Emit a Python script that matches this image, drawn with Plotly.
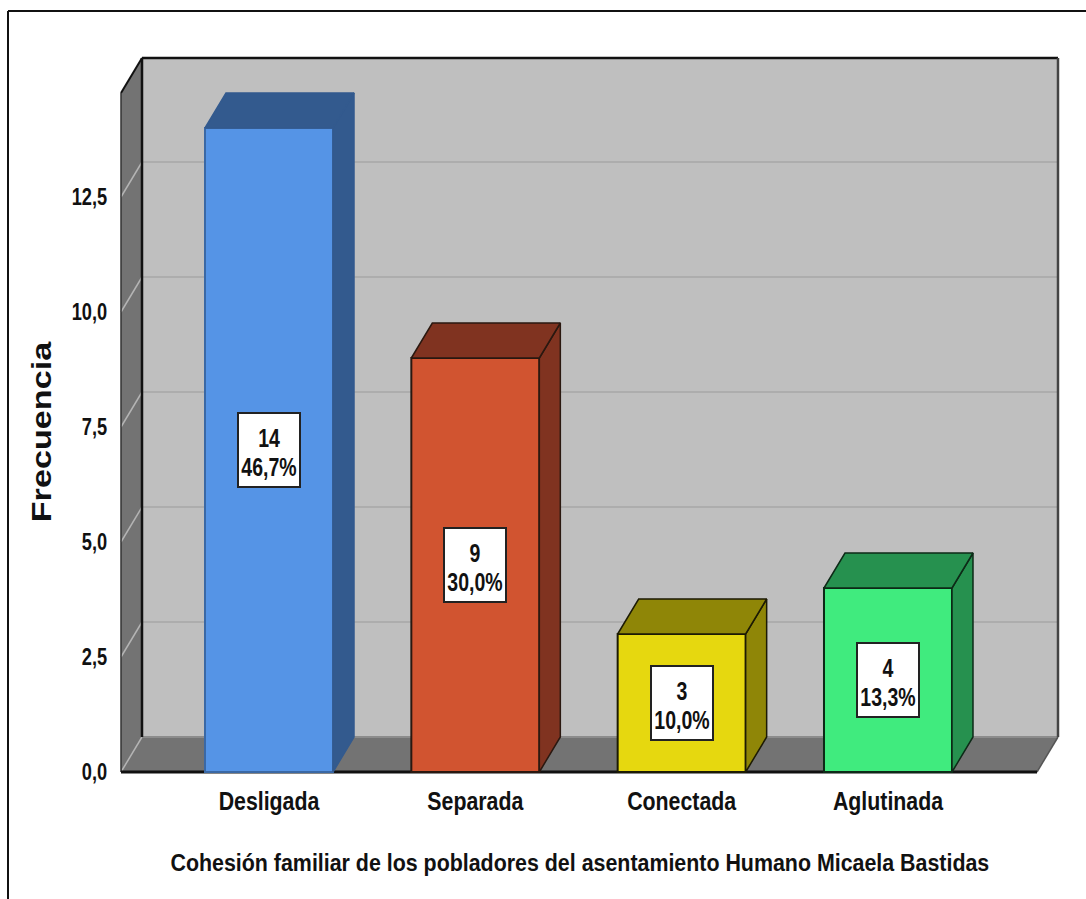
import plotly.graph_objects as go

categories = ["Desligada", "Separada", "Conectada", "Aglutinada"]
frequencies = [14, 9, 3, 4]
percent_labels = ["46,7%", "30,0%", "10,0%", "13,3%"]
y_tick_values = [0, 2.5, 5, 7.5, 10, 12.5]
y_tick_labels = ["0,0", "2,5", "5,0", "7,5", "10,0", "12,5"]
front_colors = ["#5594e6", "#d15430", "#e6d80f", "#40eb7e"]
dark_colors = ["#335a8e", "#803320", "#8f8607", "#26914f"]
edge_colors = ["#3a68a5", "#2a1810", "#1c1a04", "#0d2a17"]
side_edge_colors = ["#335a8e", "#2a1810", "#1c1a04", "#0d2a17"]
x_title = "Cohesión familiar de los pobladores del asentamiento Humano Micaela Bastidas"
y_title = "Frecuencia"

W, H = 1086, 899
L, R, T, B = 121, 1058, 58, 772        # 3D box in page pixels
PAD = 4                                 # room so edge lines are not clipped
UNIT_Y = 46.0
UNIT_X = 206.33
CENTER0 = 269
X_MIN = (L - CENTER0) / UNIT_X
X_MAX = (R - CENTER0) / UNIT_X
Y_MAX = (B - T) / UNIT_Y
DX = 21 / UNIT_X
DY = 35 / UNIT_Y
HALF = 64 / UNIT_X
FRONT_R = X_MAX - DX
FRONT_T = Y_MAX - DY
TEXT_FONT = "Liberation Sans"


def px(x):
    return (x - (L - PAD)) / (R - L + 2 * PAD)


def py(y):
    return ((B + PAD) - y) / (B - T + 2 * PAD)


def poly(points, fill, line=None, width=0):
    path = "M " + " L ".join(f"{a},{b}" for a, b in points) + " Z"
    return dict(type="path", path=path, xref="x", yref="y", layer="below",
                fillcolor=fill, line=dict(color=line or fill, width=width))


def seg(x0, y0, x1, y1, color, width):
    return dict(type="line", x0=x0, y0=y0, x1=x1, y1=y1, xref="x", yref="y",
                layer="below", line=dict(color=color, width=width))


shapes = [
    poly([(X_MIN + DX, DY), (X_MAX, DY), (X_MAX, Y_MAX), (X_MIN + DX, Y_MAX)], "#bfbfbf"),
    poly([(X_MIN, 0), (X_MIN + DX, DY), (X_MIN + DX, Y_MAX), (X_MIN, FRONT_T)], "#737373"),
    poly([(X_MIN, 0), (FRONT_R, 0), (X_MAX, DY), (X_MIN + DX, DY)], "#737373"),
]
for v in y_tick_values[1:]:
    shapes.append(seg(X_MIN + DX, v + DY, X_MAX, v + DY, "#adadad", 2))
for v in y_tick_values:
    shapes.append(seg(X_MIN, v, X_MIN + DX, v + DY, "#b4b4b4", 1.5))
shapes += [
    seg(X_MIN + DX, DY, X_MAX, DY, "#8c8c8c", 2),
    seg(X_MIN + DX, DY, X_MIN + DX, Y_MAX, "#111111", 2.5),
    seg(X_MIN + DX, Y_MAX, X_MAX, Y_MAX, "#111111", 2.5),
    seg(X_MAX, DY, X_MAX, Y_MAX, "#444444", 2.5),
    seg(X_MIN, FRONT_T, X_MIN + DX, Y_MAX, "#111111", 2),
    seg(X_MIN, 0, X_MIN, FRONT_T, "#333333", 1.5),
    seg(FRONT_R, 0, X_MAX, DY, "#555555", 1.5),
    seg(X_MIN, 0, FRONT_R, 0, "#111111", 3),
]
# outer frame (open at the right and bottom)
shapes += [
    dict(type="line", xref="paper", yref="paper", x0=px(8), x1=px(8), y0=py(11), y1=py(H),
         line=dict(color="#111111", width=2)),
    dict(type="line", xref="paper", yref="paper", x0=px(8), x1=px(W), y0=py(11), y1=py(11),
         line=dict(color="#111111", width=2)),
]

fig = go.Figure()
positions = list(range(len(categories)))
fig.add_trace(go.Bar(
    x=positions, y=frequencies, width=2 * HALF,
    marker=dict(color=front_colors, line=dict(color=edge_colors, width=2)),
    hoverinfo="skip",
))
for i, v in enumerate(frequencies):
    a, b = i - HALF, i + HALF
    fig.add_trace(go.Scatter(
        x=[b, b + DX, b + DX, b, b], y=[0, DY, v + DY, v, 0],
        mode="lines", fill="toself", fillcolor=dark_colors[i],
        line=dict(color=side_edge_colors[i], width=1.5), hoverinfo="skip",
    ))
    fig.add_trace(go.Scatter(
        x=[a, a + DX, b + DX, b, a], y=[v, v + DY, v + DY, v, v],
        mode="lines", fill="toself", fillcolor=dark_colors[i],
        line=dict(color=side_edge_colors[i], width=1.5), hoverinfo="skip",
    ))

annotations = [
    dict(x=i, y=v / 2, xref="x", yref="y", text=f"{v}<br>{percent_labels[i]}",
         showarrow=False, bgcolor="white", bordercolor="#222222", borderwidth=2,
         width=60, height=72, borderpad=0,
         font=dict(family=TEXT_FONT, size=26, color="#111111", weight="bold"))
    for i, v in enumerate(frequencies)
]
annotations += [
    dict(xref="paper", yref="paper", x=px(580), y=py(863), xanchor="center", yanchor="middle",
         text=x_title, showarrow=False,
         font=dict(family=TEXT_FONT, size=23.5, color="#111111", weight="bold")),
    dict(xref="paper", yref="paper", x=px(41), y=py(432), xanchor="center", yanchor="middle",
         text=y_title, showarrow=False, textangle=-90,
         font=dict(family=TEXT_FONT, size=28, color="#111111", weight="bold")),
]

fig.update_layout(
    width=W, height=H,
    margin=dict(l=L - PAD, r=W - R - PAD, t=T - PAD, b=H - B - PAD, pad=0),
    paper_bgcolor="white", plot_bgcolor="white",
    showlegend=False, shapes=shapes, annotations=annotations,
    xaxis=dict(range=[X_MIN - PAD / UNIT_X, X_MAX + PAD / UNIT_X],
               tickvals=positions, ticktext=categories,
               showgrid=False, zeroline=False, showline=False,
               ticks="outside", ticklen=2, tickcolor="rgba(0,0,0,0)",
               tickfont=dict(family=TEXT_FONT, size=26, color="#111111", weight="bold")),
    yaxis=dict(range=[-PAD / UNIT_Y, Y_MAX + PAD / UNIT_Y],
               tickvals=y_tick_values, ticktext=y_tick_labels,
               showgrid=False, zeroline=False, showline=False,
               ticks="outside", ticklen=4, tickcolor="rgba(0,0,0,0)",
               tickfont=dict(family=TEXT_FONT, size=24, color="#111111", weight="bold")),
)

post = """
document.body.style.margin = '0';
document.body.style.overflow = 'hidden';
document.querySelectorAll('svg.main-svg text').forEach(function (t) {
  var s = t.textContent;
  var factor = 0.75;
  if (s === 'Frecuencia') factor = 1.22;
  else if (s.indexOf('Cohesi') === 0) factor = 0.91;
  else if (t.closest('.xtick')) factor = 0.82;
  else if (t.closest('.ytick')) factor = 0.76;
  var lines = t.querySelectorAll('tspan.line');
  var targets = lines.length ? Array.from(lines) : [t];
  targets.forEach(function (el, i) {
    el.setAttribute('textLength', el.getComputedTextLength() * factor);
    el.setAttribute('lengthAdjust', 'spacingAndGlyphs');
    if (lines.length > 1 && i === 0) { el.setAttribute('dy', '0.2em'); }
  });
});
"""
fig.write_html("out.html", config=dict(displayModeBar=False), post_script=post)
